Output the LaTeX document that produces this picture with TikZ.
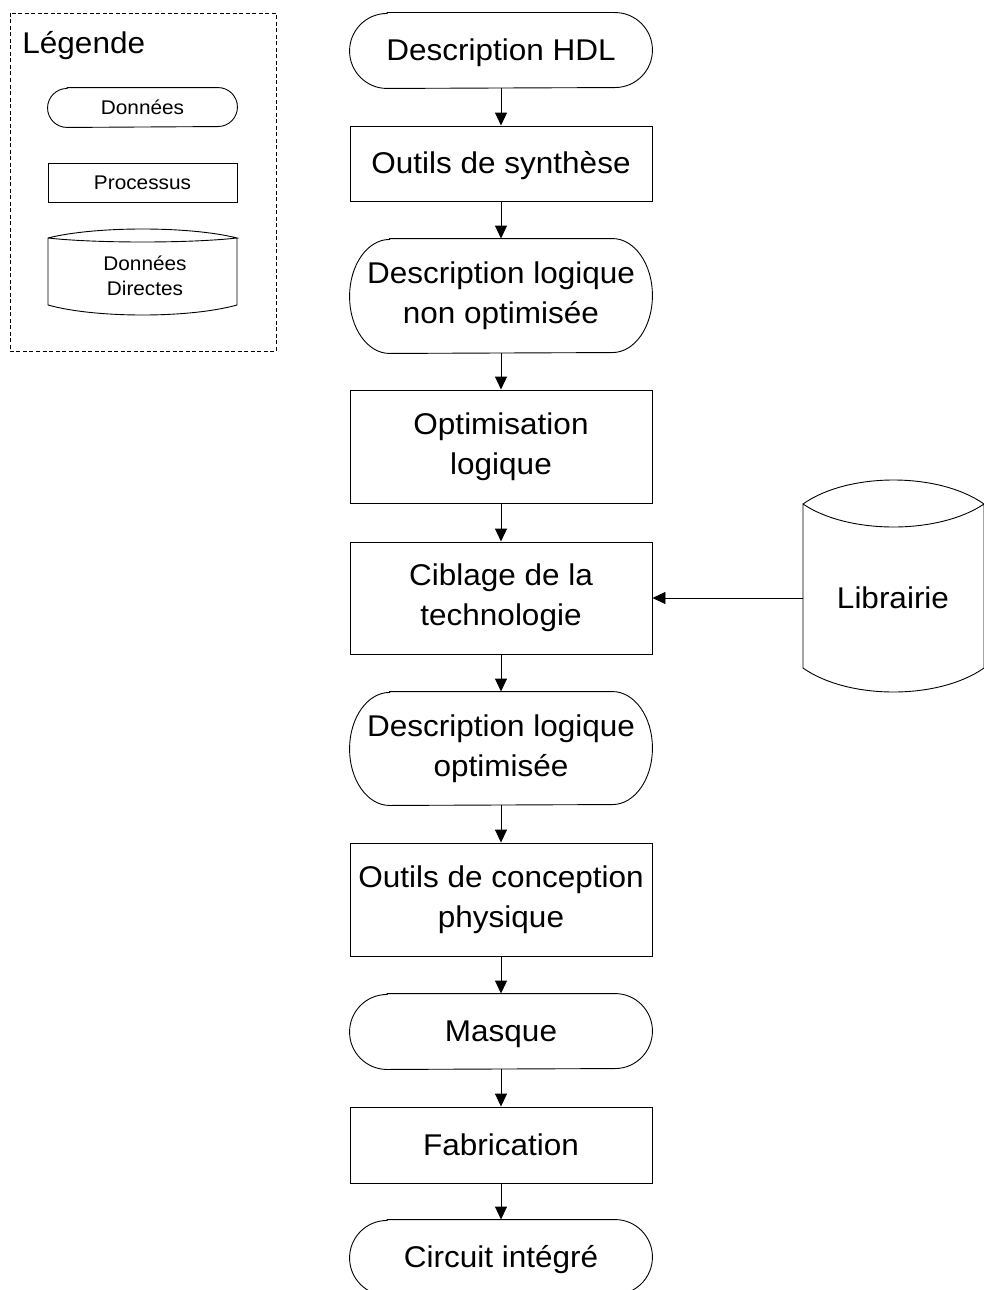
\documentclass[tikz,border=0pt]{standalone}
\usepackage{fontspec}
\setmainfont[FakeStretch=1.05]{Liberation Sans}
\usetikzlibrary{arrows.meta}

\newcommand{\bordDonnees}[3]{%
  \draw ([xshift=#2]#1.north west) -- ([xshift=-#2]#1.north east)
    arc[start angle=90, end angle=-90, x radius=#2, y radius=#3]
    -- ([xshift=#2]#1.south west)
    arc[start angle=270, end angle=90, x radius=#2, y radius=#3] -- cycle;}

\newcommand{\cylindre}[7]{%
  \draw (#1,-#3) .. controls ({#1+(#2-#1)/4},{-#3+4/3*#5}) and ({#2-(#2-#1)/4},{-#3+4/3*#5}) .. (#2,-#3)
    .. controls ({#2-(#2-#1)/4},{-#3-4/3*#6}) and ({#1+(#2-#1)/4},{-#3-4/3*#6}) .. (#1,-#3)
    -- (#1,-#4) .. controls ({#1+(#2-#1)/4},{-#4-4/3*#7}) and ({#2-(#2-#1)/4},{-#4-4/3*#7}) .. (#2,-#4)
    -- (#2,-#3);}

\tikzset{
  texte/.style={font=\fontsize{30}{40}\selectfont, align=center, inner sep=0pt,
    execute at begin node=\rule{0pt}{27pt}, execute at end node=\rule[-6.4pt]{0pt}{0pt}},
  petit/.style={font=\fontsize{19.8}{25}\selectfont, align=center, inner sep=0pt,
    execute at begin node=\rule{0pt}{17.9pt}, execute at end node=\rule[-4.2pt]{0pt}{0pt}},
  donnees/.style={texte, minimum width=302pt},
  processus/.style={texte, draw, minimum width=302pt},
  legdonnees/.style={petit, minimum width=189pt, minimum height=39pt},
  legprocessus/.style={petit, draw, minimum width=189pt, minimum height=39pt},
  fleche/.style={-{Triangle[length=13pt, width=12pt]}},
  cadre/.style={dash pattern=on 4pt off 2.5pt}
}

\begin{document}
\begin{tikzpicture}[x=1pt, y=1pt, line width=0.9pt]
\useasboundingbox (0,0) rectangle (983,-1290);

\draw [cadre] (10,-13) rectangle (276,-351);
\node [texte, anchor=base west] (titre) at (22,-53) {Légende};
\node [legdonnees] (legdon) at (142.5,-107.5) {Données};
\bordDonnees{legdon}{19.5pt}{19.5pt}
\node [legprocessus] (legproc) at (142.5,-182.5) {Processus};
\cylindre{48}{237}{238}{305}{9}{4}{10}
\node [petit] (legdir) at (145,-278) {Données\\Directes};

\node [donnees, minimum height=75pt] (hdl) at (501,-50.5) {Description HDL};
\node [processus, minimum height=75pt] (synth) at (501,-163.5) {Outils de synthèse};
\node [donnees, minimum height=114pt] (nonopt) at (501,-296) {Description logique\\non optimisée};
\node [processus, minimum height=113pt] (optim) at (501,-446.5) {Optimisation\\logique};
\node [processus, minimum height=112pt] (cib) at (501,-598) {Ciblage de la\\technologie};
\node [donnees, minimum height=113pt] (opt) at (501,-748.5) {Description logique\\optimisée};
\node [processus, minimum height=113pt] (conc) at (501,-899.5) {Outils de conception\\physique};
\node [donnees, minimum height=75pt] (masque) at (501,-1031.5) {Masque};
\node [processus, minimum height=76pt] (fab) at (501,-1145) {Fabrication};
\node [donnees, minimum height=75pt] (circ) at (501,-1257.5) {Circuit intégré};

\bordDonnees{hdl}{37.5pt}{37.5pt}
\bordDonnees{nonopt}{40pt}{57pt}
\bordDonnees{opt}{40pt}{56.5pt}
\bordDonnees{masque}{37.5pt}{37.5pt}
\bordDonnees{circ}{37.5pt}{37.5pt}

\cylindre{803}{984}{504}{668}{24}{23}{24}
\node [texte, minimum width=180pt] (lib) at (893,-598) {Librairie};

\foreach \a/\b in {hdl/synth, synth/nonopt, nonopt/optim, optim/cib, cib/opt,
                   opt/conc, conc/masque, masque/fab, fab/circ}
  \draw [fleche] (\a) -- (\b);
\draw [fleche] (lib.west) -- (cib.east);
\end{tikzpicture}
\end{document}
